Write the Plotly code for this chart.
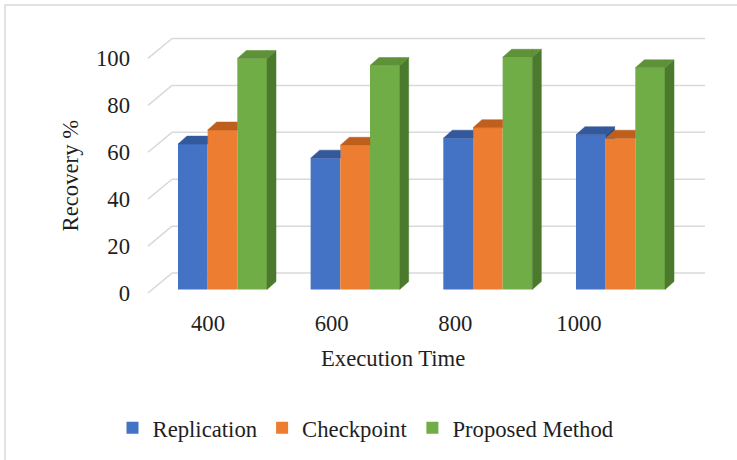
import plotly.graph_objects as go

# ---------------- data ----------------
categories = ["400", "600", "800", "1000"]
series_names = ["Replication", "Checkpoint", "Proposed Method"]
replication = [62, 56, 64.5, 66]
checkpoint = [68, 61.5, 69, 64.5]
proposed = [98.5, 95.5, 99, 94.5]
y_ticks = [0, 20, 40, 60, 80, 100]

series_values = [replication, checkpoint, proposed]
front_colors = ["#4472C4", "#ED7D31", "#70AD47"]
top_colors = ["#34589C", "#BE5F1E", "#5E9138"]
side_colors = ["#2C4C86", "#A4501A", "#4B7A2C"]

# ---------------- geometry (styling constants) ----------------
W, H = 737, 460
L, R, T, B = 148, 32, 30, 160
PW = W - L - R          # plot width px
PH = H - T - B          # plot height px
PXU = 2.355             # px per y unit
ZERO_PX = 260.5         # px from plot top to bar base
X_RANGE = [-0.5615, 3.637]
Y_RANGE = [-(PH - ZERO_PX) / PXU, ZERO_PX / PXU]
LBL_SHIFT = 3.5 / PXU   # front edge (labels) sits slightly lower than bar base
Y2_RANGE = [Y_RANGE[0] + LBL_SHIFT, Y_RANGE[1] + LBL_SHIFT]
BW = 0.2237             # bar width in x units
DX = 9 / 132.67         # depth shift in x units
DY = 8 / PXU            # depth shift in y units
BACK_DY = 7.0           # back-wall offset in y units
BACK_X = 24 / PW        # back-wall offset in paper units

FONT = "Liberation Serif"
FS = 22.7
TXT = "#1f1f1f"
GRID = "#d9d9d9"


def clip_above(poly, c):
    """Clip polygon to the half-plane y >= c (Sutherland-Hodgman)."""
    out = []
    n = len(poly)
    for k in range(n):
        p, q = poly[k], poly[(k + 1) % n]
        pin, qin = p[1] >= c, q[1] >= c
        if pin:
            out.append(p)
        if pin != qin:
            t = (c - p[1]) / (q[1] - p[1])
            out.append((p[0] + t * (q[0] - p[0]), c))
    return out


def add_poly(xs, ys, poly):
    if len(poly) < 3:
        return
    for px, py in poly:
        xs.append(px)
        ys.append(py)
    xs.append(poly[0][0])
    ys.append(poly[0][1])
    xs.append(None)
    ys.append(None)


fig = go.Figure()

# front faces as bars
for i, (name, vals) in enumerate(zip(series_names, series_values)):
    fig.add_trace(go.Bar(
        x=list(range(len(categories))), y=vals, name=name,
        width=BW, offset=-1.5 * BW + i * BW,
        marker=dict(color=front_colors[i], line=dict(width=0)),
        hoverinfo="skip",
    ))

# top and side faces derived from the same values
for i, vals in enumerate(series_values):
    tx, ty, sx, sy = [], [], [], []
    for g, v in enumerate(vals):
        left = g - 1.5 * BW + i * BW
        right = left + BW
        nxt = series_values[i + 1][g] if i + 1 < len(series_values) else 0
        add_poly(tx, ty, [(left, v), (right, v), (right, v + DY), (left + DX, v + DY)])
        add_poly(tx, ty, clip_above([(right, v), (right + DX, v + DY), (right, v + DY)], nxt))
        add_poly(sx, sy, clip_above([(right, 0), (right + DX, DY), (right + DX, v + DY), (right, v)], nxt))
    fig.add_trace(go.Scatter(x=sx, y=sy, fill="toself", mode="lines",
                             line=dict(width=0.5, color=side_colors[i]),
                             fillcolor=side_colors[i], showlegend=False, hoverinfo="skip"))
    fig.add_trace(go.Scatter(x=tx, y=ty, fill="toself", mode="lines",
                             line=dict(width=0.5, color=top_colors[i]),
                             fillcolor=top_colors[i], showlegend=False, hoverinfo="skip"))

# invisible traces registering the label axes
fig.add_trace(go.Scatter(x=list(range(len(categories))), y=[0] * len(categories),
                         xaxis="x2", yaxis="y", mode="markers",
                         marker=dict(opacity=0), showlegend=False, hoverinfo="skip"))
fig.add_trace(go.Scatter(x=[0], y=[0], xaxis="x", yaxis="y2", mode="markers",
                         marker=dict(opacity=0), showlegend=False, hoverinfo="skip"))

# wall gridlines (back wall + left wall diagonals)
shapes = []
for v in y_ticks:
    shapes.append(dict(type="line", xref="paper", yref="y", x0=BACK_X, x1=1,
                       y0=v + BACK_DY, y1=v + BACK_DY, layer="below",
                       line=dict(color=GRID, width=1.5)))
    shapes.append(dict(type="line", xref="paper", yref="y2", x0=0, x1=BACK_X,
                       y0=v, y1=v + BACK_DY + LBL_SHIFT, layer="below",
                       line=dict(color=GRID, width=1.5)))
# chart border
shapes.append(dict(type="rect", xref="paper", yref="paper",
                   x0=(5 - L) / PW, x1=(W + 10 - L) / PW,
                   y0=(PH - (H + 10 - T)) / PH, y1=(PH - (5 - T)) / PH,
                   line=dict(color=GRID, width=1.5), layer="below"))

fig.update_layout(
    width=W, height=H,
    margin=dict(l=L, r=R, t=T, b=B),
    paper_bgcolor="white", plot_bgcolor="rgba(0,0,0,0)",
    barmode="overlay",
    font=dict(family=FONT, size=FS, color=TXT),
    xaxis=dict(range=X_RANGE, showticklabels=False, showgrid=False,
               zeroline=False, showline=False, ticks="", fixedrange=True),
    xaxis2=dict(domain=[0, (638 - L) / PW], anchor="y",
                range=[-(208 - L) / 123.67, (638 - 208) / 123.67],
                tickvals=list(range(len(categories))), ticktext=categories,
                showgrid=False, zeroline=False, showline=False, ticks="",
                ticklabelstandoff=8, tickfont=dict(family=FONT, size=FS, color=TXT),
                fixedrange=True),
    yaxis=dict(range=Y_RANGE, showticklabels=False, showgrid=False, zeroline=False,
               showline=False, ticks="", fixedrange=True),
    yaxis2=dict(range=Y2_RANGE, overlaying="y", side="left", anchor="x",
                tickvals=y_ticks, showgrid=False, zeroline=False,
                showline=False, ticks="", ticklabelstandoff=17,
                tickfont=dict(family=FONT, size=FS, color=TXT), fixedrange=True),
    shapes=shapes,
    annotations=[
        dict(text="Execution Time", xref="paper", yref="paper",
             x=(393 - L) / PW, y=(PH - (360 - T)) / PH,
             xanchor="center", yanchor="middle", showarrow=False,
             font=dict(family=FONT, size=FS, color=TXT)),
        dict(text="Recovery %", xref="paper", yref="paper",
             x=(70 - L) / PW, y=(PH - (176 - T)) / PH, textangle=-90,
             xanchor="center", yanchor="middle", showarrow=False,
             font=dict(family=FONT, size=FS, color=TXT)),
    ],
    legend=dict(orientation="h", x=(366 - L) / PW, xanchor="center",
                y=(PH - (428 - T)) / PH, yanchor="middle",
                font=dict(family=FONT, size=FS, color=TXT), bgcolor="rgba(0,0,0,0)",
                itemwidth=30),
    showlegend=True,
)

fig.write_html("out.html", config={"displayModeBar": False},
               post_script="document.body.style.margin='0';")
